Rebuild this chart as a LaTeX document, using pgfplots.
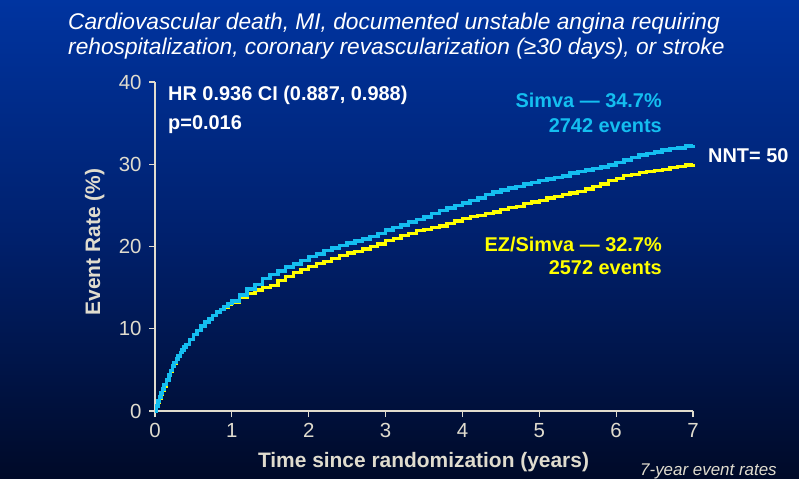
\documentclass[border=0pt]{standalone}
\usepackage{fontspec}
\setmainfont{Liberation Sans}
\usepackage{pgfplots}
\pgfplotsset{compat=1.18}
\definecolor{simva}{RGB}{20,190,240}
\definecolor{ezs}{RGB}{255,255,0}
\definecolor{axc}{RGB}{224,220,206}
\definecolor{bgtop}{RGB}{0,52,160}
\definecolor{bgmid}{RGB}{0,32,108}
\definecolor{bgbot}{RGB}{0,10,40}
\pgfplotstableread{
x y
0 0
0.02 0.6
0.04 1.2
0.06 1.7
0.08 2.2
0.1 2.7
0.12 3.2
0.15 3.8
0.18 4.4
0.2 4.9
0.23 5.5
0.25 5.9
0.28 6.3
0.3 6.7
0.33 7.1
0.35 7.4
0.38 7.8
0.4 8.1
0.45 8.7
0.5 9.3
0.55 9.8
0.6 10.3
0.65 10.8
0.7 11.2
0.75 11.6
0.8 12.0
0.85 12.35
0.9 12.7
0.95 13.05
1.0 13.4
1.1 14.1
1.2 14.8
1.3 15.4
1.4 16.1
1.5 16.6
1.6 17.0
1.7 17.5
1.8 17.9
1.9 18.3
2.0 18.8
2.1 19.1
2.2 19.5
2.3 19.8
2.4 20.1
2.5 20.4
2.6 20.7
2.7 20.9
2.8 21.2
2.9 21.6
3.0 22.0
3.1 22.3
3.2 22.6
3.3 23.0
3.4 23.3
3.5 23.6
3.6 24.0
3.7 24.4
3.8 24.7
3.9 25.0
4.0 25.3
4.1 25.6
4.2 25.9
4.3 26.3
4.4 26.6
4.5 26.9
4.6 27.1
4.7 27.3
4.8 27.6
4.9 27.8
5.0 28.0
5.1 28.2
5.2 28.4
5.3 28.6
5.4 28.9
5.5 29.1
5.6 29.3
5.7 29.5
5.8 29.7
5.9 29.9
6.0 30.2
6.1 30.5
6.2 30.8
6.3 31.1
6.4 31.3
6.5 31.5
6.6 31.7
6.7 31.9
6.8 32.0
6.9 32.2
7.0 32.4
}\simva
\pgfplotstableread{
x y
0 0
0.02 0.5
0.04 1.0
0.06 1.5
0.08 2.0
0.1 2.5
0.12 3.0
0.15 3.7
0.18 4.3
0.2 4.8
0.23 5.4
0.25 5.8
0.28 6.3
0.3 6.7
0.33 7.1
0.35 7.4
0.38 7.8
0.4 8.1
0.45 8.7
0.5 9.3
0.55 9.8
0.6 10.3
0.65 10.8
0.7 11.2
0.75 11.6
0.8 12.0
0.85 12.3
0.9 12.6
0.95 12.9
1.0 13.2
1.1 13.8
1.2 14.3
1.3 14.7
1.4 15.0
1.5 15.3
1.6 15.9
1.7 16.4
1.8 16.8
1.9 17.2
2.0 17.6
2.1 17.9
2.2 18.2
2.3 18.5
2.4 18.9
2.5 19.2
2.6 19.4
2.7 19.7
2.8 20.0
2.9 20.3
3.0 20.7
3.1 21.0
3.2 21.3
3.3 21.6
3.4 21.9
3.5 22.1
3.6 22.3
3.7 22.5
3.8 22.8
3.9 23.1
4.0 23.4
4.1 23.6
4.2 23.8
4.3 24.0
4.4 24.2
4.5 24.5
4.6 24.7
4.7 24.9
4.8 25.2
4.9 25.4
5.0 25.6
5.1 25.9
5.2 26.1
5.3 26.3
5.4 26.5
5.5 26.7
5.6 27.0
5.7 27.3
5.8 27.6
5.9 28.0
6.0 28.3
6.1 28.6
6.2 28.8
6.3 29.0
6.4 29.1
6.5 29.2
6.6 29.4
6.7 29.6
6.8 29.7
6.9 29.9
7.0 30.0
}\ezsimva
\begin{document}
\begin{tikzpicture}[x=1bp,y=1bp]
\shade[top color=bgtop, bottom color=bgbot, middle color=bgmid] (0,0) rectangle (799,478);
\begin{axis}[
  at={(155bp,67bp)}, anchor=south west,
  scale only axis, width=538bp, height=329bp,
  xmin=0, xmax=7, ymin=0, ymax=40,
  axis x line*=bottom, axis y line*=left,
  axis line style={-, draw=axc, line width=1.3bp},
  xtick={0,1,...,7}, ytick={0,10,...,40},
  tick align=outside, major tick length=6bp,
  tick style={draw=axc, line width=1.1bp},
  ticklabel style={font=\fontsize{20.5}{21}\selectfont, text=axc},
  /pgf/number format/assume math mode=true,
  xticklabel style={yshift=-3bp},
  yticklabel style={xshift=-4bp},
  clip=false,
]
\addplot[const plot, draw=ezs, line width=3.2bp] table {\ezsimva};
\addplot[const plot, draw=simva, line width=3.6bp] table {\simva};
\end{axis}
\node[anchor=base west, text=white, font=\itshape\fontsize{22.8}{25}\selectfont, inner sep=0pt] at (68,448) {Cardiovascular death, MI, documented unstable angina requiring};
\node[anchor=base west, text=white, font=\itshape\fontsize{22.8}{25}\selectfont, inner sep=0pt] at (68,423) {rehospitalization, coronary revascularization (≥30 days), or stroke};
\node[anchor=base west, text=white, font=\bfseries\fontsize{20}{22}\selectfont, inner sep=0pt] at (168,377) {HR 0.936 CI (0.887, 0.988)};
\node[anchor=base west, text=white, font=\bfseries\fontsize{20}{22}\selectfont, inner sep=0pt] at (168,348) {p=0.016};
\node[anchor=base east, text=simva, font=\bfseries\fontsize{20}{22}\selectfont, inner sep=0pt] at (662,370) {Simva — 34.7\%};
\node[anchor=base east, text=simva, font=\bfseries\fontsize{20}{22}\selectfont, inner sep=0pt] at (662,345) {2742 events};
\node[anchor=base west, text=white, font=\bfseries\fontsize{20}{22}\selectfont, inner sep=0pt] at (708,315) {NNT= 50};
\node[anchor=base east, text=ezs, font=\bfseries\fontsize{20}{22}\selectfont, inner sep=0pt] at (662,226) {EZ/Simva — 32.7\%};
\node[anchor=base east, text=ezs, font=\bfseries\fontsize{20}{22}\selectfont, inner sep=0pt] at (662,203) {2572 events};
\node[anchor=base, text=axc, font=\bfseries\fontsize{21}{22}\selectfont, inner sep=0pt] at (423.5,11) {Time since randomization (years)};
\node[anchor=base, rotate=90, text=axc, font=\bfseries\fontsize{21}{22}\selectfont, inner sep=0pt] at (100,236) {Event Rate (\%)};
\node[anchor=base west, text=axc, font=\itshape\fontsize{17}{18}\selectfont, inner sep=0pt] at (640,3) {7-year event rates};
\end{tikzpicture}
\end{document}
